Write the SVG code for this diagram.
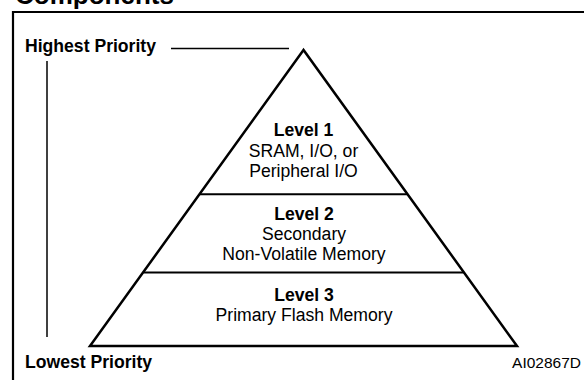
<svg xmlns="http://www.w3.org/2000/svg" width="584" height="380" viewBox="0 0 584 380">
<style>
text{font-family:"Liberation Sans",Arial,sans-serif;fill:#000}
.b{font-weight:bold}
.t{font-size:17.6px}
.c{text-anchor:middle}
.ln{stroke:#000;fill:none}
</style>
<rect width="584" height="380" fill="#fff"/>
<text x="15" y="4" class="b" style="font-size:26px">Components</text>
<g id="frame">
<path class="ln" d="M13 380V12H584" stroke-width="2.2"/>
</g>
<g id="labels">
<text x="25" y="52" class="b t">Highest Priority</text>
<text x="25" y="368" class="b t">Lowest Priority</text>
<text x="581" y="368" style="font-size:15.5px;text-anchor:end">AI02867D</text>
</g>
<g id="connectors">
<line class="ln" x1="171" y1="48.5" x2="289" y2="48.5" stroke-width="1.5"/>
<line class="ln" x1="47" y1="61" x2="47" y2="337" stroke-width="1.5"/>
</g>
<g id="pyramid">
<path class="ln" d="M303.5 50L90 346H517Z" stroke-width="2.5" stroke-linejoin="miter"/>
<line class="ln" x1="199.5" y1="194.3" x2="407.5" y2="194.3" stroke-width="2"/>
<line class="ln" x1="143.5" y1="272.5" x2="463.5" y2="272.5" stroke-width="2"/>
</g>
<g id="level1">
<text x="303.5" y="136" class="b t c">Level 1</text>
<text x="303.5" y="157" class="t c">SRAM, I/O, or</text>
<text x="303.5" y="177" class="t c">Peripheral I/O</text>
</g>
<g id="level2">
<text x="304" y="220" class="b t c">Level 2</text>
<text x="304" y="240" class="t c">Secondary</text>
<text x="304" y="260" class="t c">Non-Volatile Memory</text>
</g>
<g id="level3">
<text x="304" y="301" class="b t c">Level 3</text>
<text x="304" y="321" class="t c">Primary Flash Memory</text>
</g>
</svg>
